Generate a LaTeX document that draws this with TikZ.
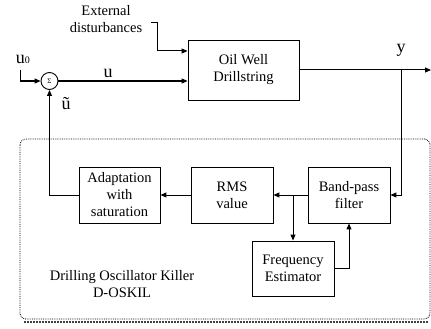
\documentclass[tikz,border=0pt]{standalone}
\usepackage{fontspec}
\setmainfont{Liberation Serif}
\usetikzlibrary{arrows.meta}
\begin{document}
\begin{tikzpicture}[x=1pt,y=-1pt,
  font=\fontsize{14.5}{17}\selectfont,
  blk/.style={draw, line width=0.9pt, align=center, inner sep=0pt},
  sig/.style={line width=1pt, -{Triangle[length=6pt,width=5pt]}},
  siglab/.style={font=\fontsize{18}{18}\selectfont, inner sep=0pt}]
\useasboundingbox (0,0) rectangle (431,329);

% D-OSKIL frame with its shadow line
\draw[densely dotted, line width=0.8pt, rounded corners=6pt] (20,139) rectangle (430,319);
\draw[densely dotted, line width=2pt, black!75] (24,321.5) -- (428,321.5);

% blocks
\node[blk, minimum width=111pt, minimum height=60pt] (oil) at (243.5,70) {Oil Well\\Drillstring};
\node[blk, minimum width=82pt, minimum height=56pt] (bp) at (349,195) {Band-pass\\filter};
\node[blk, minimum width=82pt, minimum height=56pt] (rms) at (232,195) {RMS\\value};
\node[blk, minimum width=81pt, minimum height=56pt] (adapt) at (119.5,195) {Adaptation\\with\\saturation};
\node[blk, minimum width=82pt, minimum height=55pt] (freq) at (293,268.5) {Frequency\\Estimator};
\node[draw, circle, line width=0.9pt, minimum size=17pt, inner sep=0pt, font=\fontsize{7}{8}\selectfont] (sum) at (49.5,81) {Σ};

% texts
\node[align=center] (ext) at (106,19) {External\\disturbances};
\node[siglab] (u0lab) at (23,59) {u\fontsize{10}{10}\selectfont 0};
\node[siglab] (ulab) at (108,73) {u};
\node[siglab] (utlab) at (66,104) {ũ};
\node[siglab] (ylab) at (401,50) {y};
\node[align=center] (dosk) at (122,284) {Drilling Oscillator Killer\\D-OSKIL};

% connector end points
\coordinate (d0) at (151,23);
\coordinate (u0s) at (20.5,70);
\coordinate (yout) at (431,70);
\coordinate (ytap) at (401,70);
\coordinate (ftap) at (293,195);

% connectors
\draw[sig] (d0) -| (157,51) -- (oil.west |- 0,51);
\draw[sig] (u0s) |- (sum.west);
\draw[sig] (sum.east) -- (oil.west |- sum.east);
\draw[sig] (oil.east) -- (yout);
\draw[sig] (ytap) |- (bp.east);
\draw[sig] (bp.west) -- (rms.east);
\draw[sig] (ftap) -- (freq.north);
\draw[sig] (freq.east) -| (bp.south);
\draw[sig] (rms.west) -- (adapt.east);
\draw[sig] (adapt.west) -| (sum.south);
\end{tikzpicture}
\end{document}
